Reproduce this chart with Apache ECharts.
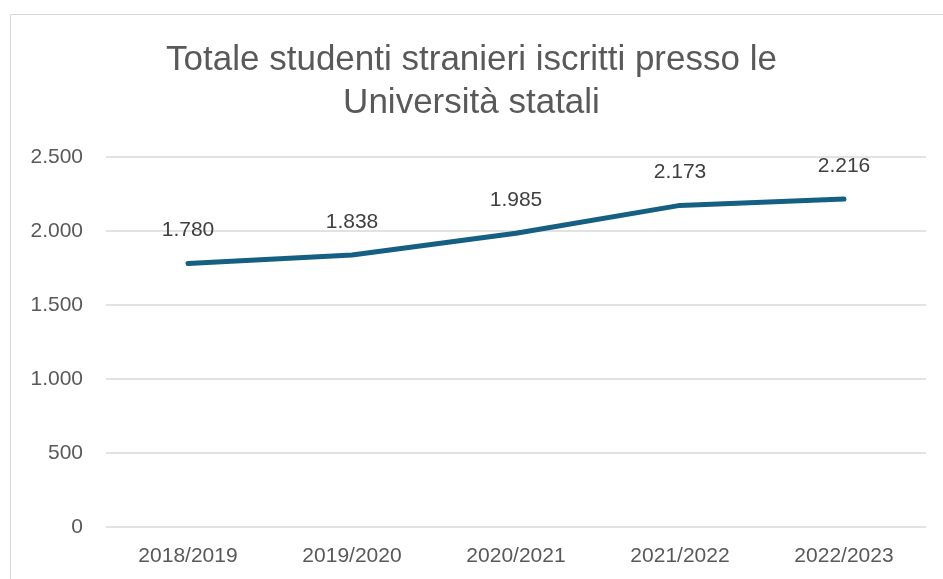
<!DOCTYPE html>
<html>
<head>
<meta charset="utf-8">
<script src="https://cdn.jsdelivr.net/npm/echarts@6/dist/echarts.min.js"></script>
<style>
  html, body { margin: 0; padding: 0; background: #fff; }
  #chart { width: 943px; height: 579px; }
</style>
</head>
<body>
<div id="chart"></div>
<script>
// anni accademici
const categories = ["2018/2019", "2019/2020", "2020/2021", "2021/2022", "2022/2023"];
// totale studenti stranieri
const studenti = [1780, 1838, 1985, 2173, 2216];
const yTicks = [0, 500, 1000, 1500, 2000, 2500];

//formato italiano con punto delle migliaia
const fmt = (v) => String(v).replace(/\B(?=(\d{3})+(?!\d))/g, ".");

const chart = echarts.init(document.getElementById("chart"));
chart.setOption({
  animation: false,
  title: {
    text: "Totale studenti stranieri iscritti presso le\nUniversità statali",
    left: "center",
    top: 34,
    textStyle: {
      fontFamily: "'Liberation Sans', Arial, sans-serif",
      fontSize: 35,
      fontWeight: "normal",
      color: "#595959",
      lineHeight: 43,
    },
  },
  graphic: [
    {
      type: "rect",
      left: 8,
      top: 12,
      shape: { width: 1000, height: 1000 },
      style: { fill: "none", stroke: "#d9d9d9", lineWidth: 1 },
      silent: true,
    },
  ],
  grid: {
    left: 106,
    right: 17,
    top: 157,
    bottom: 52,
  },
  xAxis: {
    type: "category",
    data: categories,
    boundaryGap: true,
    axisLine: { show: false },
    axisTick: { show: false },
    axisLabel: {
      margin: 19,
      fontFamily: "'Liberation Sans', Arial, sans-serif",
      fontSize: 21,
      color: "#595959",
    },
  },
  yAxis: {
    type: "value",
    min: yTicks[0],
    max: yTicks[yTicks.length - 1],
    interval: 500,
    axisLine: { show: false },
    axisTick: { show: false },
    splitLine: { lineStyle: { color: "#d9d9d9", width: 1.5 } },
    axisLabel: {
      margin: 23,
      fontFamily: "'Liberation Sans', Arial, sans-serif",
      fontSize: 21,
      color: "#595959",
      formatter: fmt,
    },
  },
  series: [
    {
      type: "line",
      data: studenti,
      symbol: "circle",
      symbolSize: 1,
      itemStyle: { color: "#156082" },
      lineStyle: { color: "#156082", width: 5, cap: "round", join: "round" },
      label: {
        show: true,
        position: "top",
        distance: 22,
        fontFamily: "'Liberation Sans', Arial, sans-serif",
        fontSize: 21,
        color: "#404040",
        formatter: (p) => fmt(p.value),
      },
    },
  ],
});
</script>
</body>
</html>
